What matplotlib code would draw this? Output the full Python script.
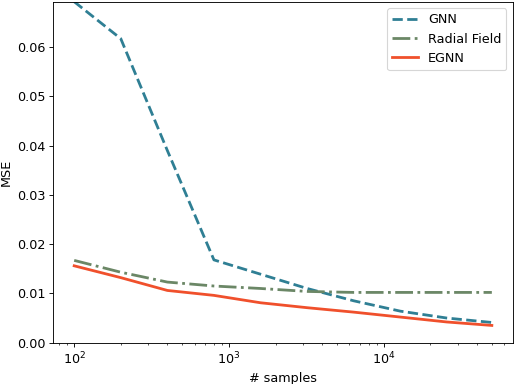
import matplotlib
matplotlib.use("Agg")
import matplotlib.pyplot as plt

plt.rcParams.update({
    'font.size': 11.5,
    'lines.linewidth': 2.5,
})

# --- DATA ---
n_samples = [100, 200, 400, 800, 1600, 3200, 6400, 12800, 25600, 50000]
mse_gnn = [0.0692, 0.0617, 0.0390, 0.0168, 0.0139, 0.0110, 0.0085, 0.0064, 0.0050, 0.0041]
mse_radial = [0.0167, 0.0143, 0.0123, 0.0115, 0.0110, 0.0104, 0.0102, 0.0102, 0.0102, 0.0102]
mse_egnn = [0.0156, 0.0132, 0.0106, 0.0096, 0.0081, 0.0071, 0.0062, 0.0052, 0.0042, 0.0035]

fig = plt.figure(figsize=(514 / 80, 384 / 80), dpi=80)
ax = fig.add_axes([0.1037, 0.1076, 0.8938, 0.888])

ax.plot(n_samples, mse_gnn, linestyle='--', color='#2f7f94', label='GNN')
ax.plot(n_samples, mse_radial, linestyle='-.', color='#6b8766', label='Radial Field')
ax.plot(n_samples, mse_egnn, linestyle='-', color='#f0502c', label='EGNN')

ax.set_xscale('log')
ax.set_ylim(0, max(mse_gnn))
ax.set_xlabel('# samples')
ax.set_ylabel('MSE')
ax.legend(loc='upper right')

fig.savefig('out.png', dpi=80)
